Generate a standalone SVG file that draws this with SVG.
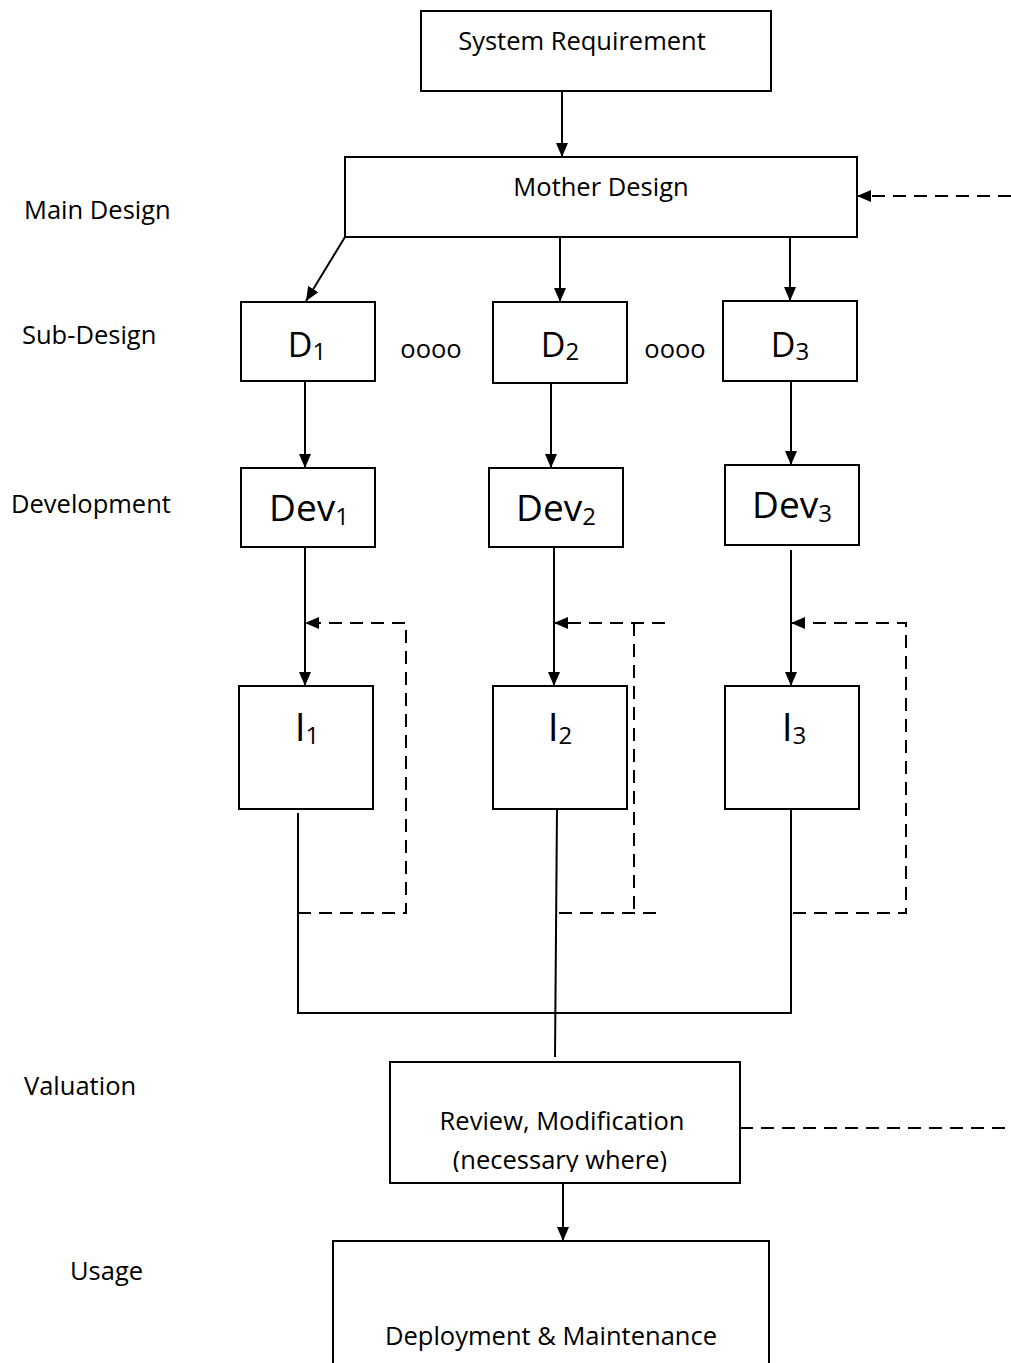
<svg xmlns="http://www.w3.org/2000/svg" width="1011" height="1363" viewBox="0 0 1011 1363">
  <style>
    .box { fill: #fff; stroke: #000; stroke-width: 2; }
    .ln { fill: none; stroke: #000; stroke-width: 2; }
    .dash { fill: none; stroke: #000; stroke-width: 2; stroke-dasharray: 13 8; }
    .t { font-family: "Open Sans", "Noto Sans", sans-serif; fill: #000; font-size: 25.5px; }
    .mid { text-anchor: middle; }
    .dbig { font-size: 34px; }
    .devbig { font-size: 37px; }
    .ibig { font-size: 39px; }
    .sub24 { font-size: 24px; }
  </style>
  <defs>
    <marker id="arr" viewBox="0 0 14 12" refX="14" refY="6" markerWidth="14" markerHeight="12" markerUnits="userSpaceOnUse" orient="auto">
      <path d="M0,0 L14,6 L0,12 Z" fill="#000"/>
    </marker>
    <clipPath id="revClip">
      <rect x="390" y="1062" width="350" height="110"/>
    </clipPath>
  </defs>
  <rect width="1011" height="1363" fill="#fff"/>

  <!-- phase labels -->
  <g id="phase-labels">
    <text class="t" x="24" y="219">Main Design</text>
    <text class="t" x="22" y="344">Sub-Design</text>
    <text class="t" x="11" y="513">Development</text>
    <text class="t" x="24" y="1095">Valuation</text>
    <text class="t" x="70" y="1280">Usage</text>
  </g>

  <!-- connectors -->
  <g id="connectors">
    <line class="ln" x1="562" y1="91" x2="562" y2="157" marker-end="url(#arr)"/>
    <line class="dash" x1="1011" y1="196" x2="857" y2="196" marker-end="url(#arr)"/>
    <line class="ln" x1="345" y1="237" x2="306" y2="301" marker-end="url(#arr)"/>
    <line class="ln" x1="560" y1="237" x2="560" y2="302" marker-end="url(#arr)"/>
    <line class="ln" x1="790" y1="237" x2="790" y2="301" marker-end="url(#arr)"/>

    <line class="ln" x1="305" y1="381" x2="305" y2="468" marker-end="url(#arr)"/>
    <line class="ln" x1="551" y1="383" x2="551" y2="468" marker-end="url(#arr)"/>
    <line class="ln" x1="791" y1="381" x2="791" y2="465" marker-end="url(#arr)"/>

    <line class="ln" x1="305" y1="547" x2="305" y2="686" marker-end="url(#arr)"/>
    <line class="ln" x1="554" y1="547" x2="554" y2="686" marker-end="url(#arr)"/>
    <line class="ln" x1="791" y1="550" x2="791" y2="686" marker-end="url(#arr)"/>

    <!-- rework loops -->
    <polyline class="dash" points="298,913 406,913 406,623 305,623" marker-end="url(#arr)"/>
    <line class="dash" x1="665" y1="623" x2="554" y2="623" marker-end="url(#arr)"/>
    <line class="dash" x1="634" y1="623" x2="634" y2="913"/>
    <line class="dash" x1="557" y1="913" x2="662" y2="913" stroke-dashoffset="-2"/>
    <polyline class="dash" points="793,913 906,913 906,623 791,623" marker-end="url(#arr)"/>

    <!-- integration into review -->
    <polyline class="ln" points="298,813 298,1013 791,1013 791,809"/>
    <line class="ln" x1="557" y1="809" x2="555" y2="1057"/>

    <line class="dash" x1="740" y1="1128" x2="1011" y2="1128"/>
    <line class="ln" x1="563" y1="1183" x2="563" y2="1241" marker-end="url(#arr)"/>
  </g>

  <g id="system-requirement">
    <rect class="box" x="421" y="11" width="350" height="80"/>
    <text class="t mid" x="582" y="50">System Requirement</text>
  </g>
  <g id="mother-design">
    <rect class="box" x="345" y="157" width="512" height="80"/>
    <text class="t mid" x="601" y="196">Mother Design</text>
  </g>

  <g id="d1">
    <rect class="box" x="241" y="302" width="134" height="79"/>
    <text class="t mid" x="307" y="357"><tspan class="dbig">D</tspan><tspan class="sub24" dy="3">1</tspan></text>
  </g>
  <text class="t mid" x="431" y="358">oooo</text>
  <g id="d2">
    <rect class="box" x="493" y="302" width="134" height="81"/>
    <text class="t mid" x="560" y="357"><tspan class="dbig">D</tspan><tspan class="sub24" dy="3">2</tspan></text>
  </g>
  <text class="t mid" x="675" y="358">oooo</text>
  <g id="d3">
    <rect class="box" x="723" y="301" width="134" height="80"/>
    <text class="t mid" x="790" y="357"><tspan class="dbig">D</tspan><tspan class="sub24" dy="3">3</tspan></text>
  </g>

  <g id="dev1">
    <rect class="box" x="241" y="468" width="134" height="79"/>
    <text class="t mid" x="309" y="521"><tspan class="devbig">Dev</tspan><tspan class="sub24" dy="4">1</tspan></text>
  </g>
  <g id="dev2">
    <rect class="box" x="489" y="468" width="134" height="79"/>
    <text class="t mid" x="556" y="521"><tspan class="devbig">Dev</tspan><tspan class="sub24" dy="4">2</tspan></text>
  </g>
  <g id="dev3">
    <rect class="box" x="725" y="465" width="134" height="80"/>
    <text class="t mid" x="792" y="518"><tspan class="devbig">Dev</tspan><tspan class="sub24" dy="4">3</tspan></text>
  </g>

  <g id="i1">
    <rect class="box" x="239" y="686" width="134" height="123"/>
    <text class="t mid" x="307" y="741"><tspan class="ibig">I</tspan><tspan class="sub24" dy="3">1</tspan></text>
  </g>
  <g id="i2">
    <rect class="box" x="493" y="686" width="134" height="123"/>
    <text class="t mid" x="560" y="741"><tspan class="ibig">I</tspan><tspan class="sub24" dy="3">2</tspan></text>
  </g>
  <g id="i3">
    <rect class="box" x="725" y="686" width="134" height="123"/>
    <text class="t mid" x="794" y="741"><tspan class="ibig">I</tspan><tspan class="sub24" dy="3">3</tspan></text>
  </g>

  <g id="review">
    <rect class="box" x="390" y="1062" width="350" height="121"/>
    <g clip-path="url(#revClip)">
      <text class="t mid" x="562" y="1130">Review, Modification</text>
      <text class="t mid" x="560" y="1169">(necessary where)</text>
    </g>
  </g>

  <g id="deployment">
    <path class="ln" d="M333,1363 V1241 H769 V1363"/>
    <text class="t mid" x="551" y="1345">Deployment &amp; Maintenance</text>
  </g>
</svg>
